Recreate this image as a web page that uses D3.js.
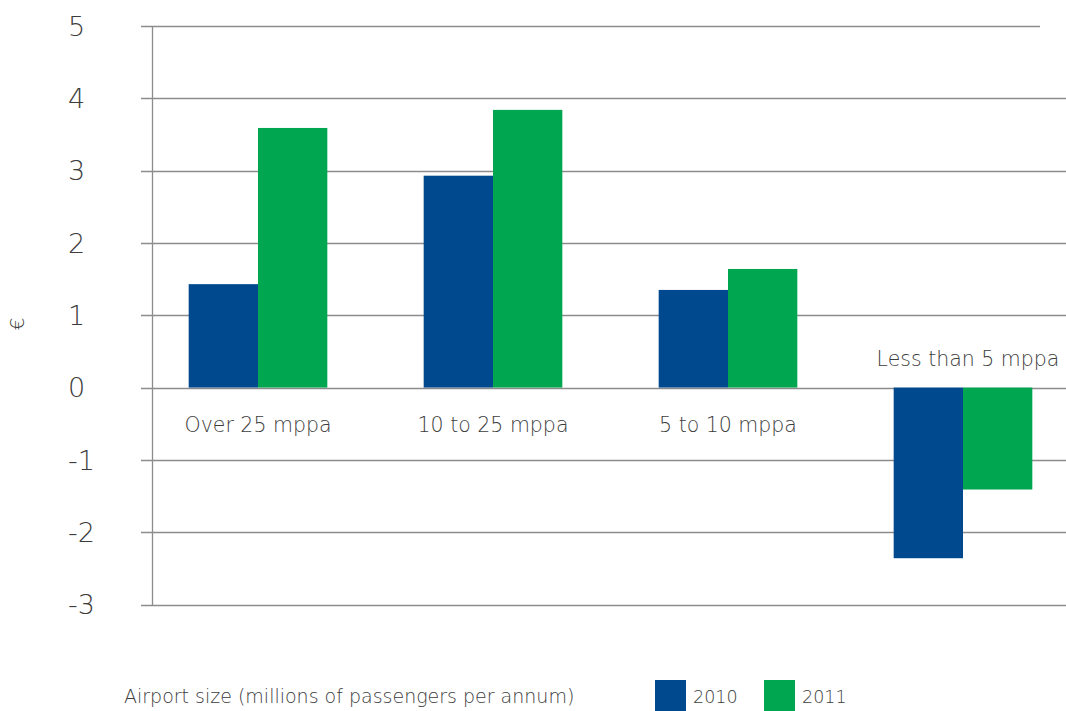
<!DOCTYPE html>
<html>
<head>
<meta charset="utf-8">
<script src="https://cdn.jsdelivr.net/npm/d3@7"></script>
<style>
  body { margin: 0; background: #fff; }
  svg { display: block; font-family: "DejaVu Sans", sans-serif; }
</style>
</head>
<body>
<div id="chart"></div>
<script>
// chart data
var categories = ["Over 25 mppa", "10 to 25 mppa", "5 to 10 mppa", "Less than 5 mppa"];
var years = ["2010", "2011"];
var values2010 = [1.43, 2.93, 1.35, -2.36];
var values2011 = [3.59, 3.84, 1.64, -1.41];
var yTicks = [5, 4, 3, 2, 1, 0, -1, -2, -3];

var width = 1066, height = 711;
var colors = { "2010": "#00498f", "2011": "#00a650" };
var textColor = "#3c3c3c";
var gridColor = "#8c8c8c";

var svg = d3.select("#chart").append("svg")
    .attr("width", width)
    .attr("height", height);

var y = d3.scaleLinear().domain([-3, 5]).range([604.5, 26]);

var x = d3.scaleBand()
    .domain(categories)
    .range([140.5, 1080.5])
    .paddingInner(0.41)
    .paddingOuter(0.205);

var xs = d3.scaleBand().domain(years).range([0, x.bandwidth()]);

// gridlines + ticks
svg.append("g").selectAll("line")
  .data(yTicks)
  .enter().append("line")
    .attr("x1", 141)
    .attr("x2", d => d === 5 ? 1040 : width)
    .attr("y1", d => Math.round(y(d)) + 0.5)
    .attr("y2", d => Math.round(y(d)) + 0.5)
    .attr("stroke", gridColor)
    .attr("stroke-width", 1.3);

// axis line
svg.append("line")
    .attr("x1", 152.5).attr("x2", 152.5)
    .attr("y1", Math.round(y(5))).attr("y2", Math.round(y(-3)) + 1)
    .attr("stroke", gridColor)
    .attr("stroke-width", 1.3);

svg.append("g").selectAll("text")
  .data(yTicks)
  .enter().append("text")
    .attr("x", 68)
    .attr("y", d => y(d))
    .attr("dy", "0.36em")
    .attr("fill", textColor)
    .style("font-size", "27px")
    .style("font-weight", 300)
    .text(d => d);

// bars
var rows = categories.map((c, i) => ({ cat: c, vals: [values2010[i], values2011[i]] }));

var group = svg.append("g").selectAll("g")
  .data(rows)
  .enter().append("g")
    .attr("transform", d => `translate(${x(d.cat)},0)`);

group.selectAll("rect")
  .data(d => d.vals.map((v, j) => ({ year: years[j], v: v })))
  .enter().append("rect")
    .attr("x", d => xs(d.year))
    .attr("width", xs.bandwidth())
    .attr("y", d => y(Math.max(0, d.v)))
    .attr("height", d => Math.abs(y(d.v) - y(0)))
    .attr("fill", d => colors[d.year]);

// category labels: below zero line, or above when the bars go negative
group.append("text")
    .attr("x", d => x.bandwidth() / 2 + (d.vals[0] < 0 ? 5 : 0))
    .attr("y", d => d.vals[0] < 0 ? y(0) - 22 : y(0) + 44)
    .attr("text-anchor", "middle")
    .attr("fill", textColor)
    .style("font-size", "20.5px")
    .style("font-weight", 300)
    .text(d => d.cat);

// € axis title
svg.append("text")
    .attr("transform", "translate(24,324) rotate(-90)")
    .attr("text-anchor", "middle")
    .attr("fill", textColor)
    .style("font-size", "20px")
    .style("font-weight", 300)
    .text("€");

// legend
svg.append("text")
    .attr("x", 124)
    .attr("y", 703)
    .attr("fill", textColor)
    .style("font-size", "19px")
    .style("font-weight", 300)
    .text("Airport size (millions of passengers per annum)");

var legend = svg.append("g").selectAll("g")
  .data(years)
  .enter().append("g")
    .attr("transform", (d, i) => `translate(${655 + i * 109},680)`);

legend.append("rect")
    .attr("width", 31)
    .attr("height", 31)
    .attr("fill", d => colors[d]);

legend.append("text")
    .attr("x", 38)
    .attr("y", 23)
    .attr("fill", textColor)
    .style("font-size", "17.5px")
    .style("font-weight", 300)
    .text(d => d);
</script>
</body>
</html>
